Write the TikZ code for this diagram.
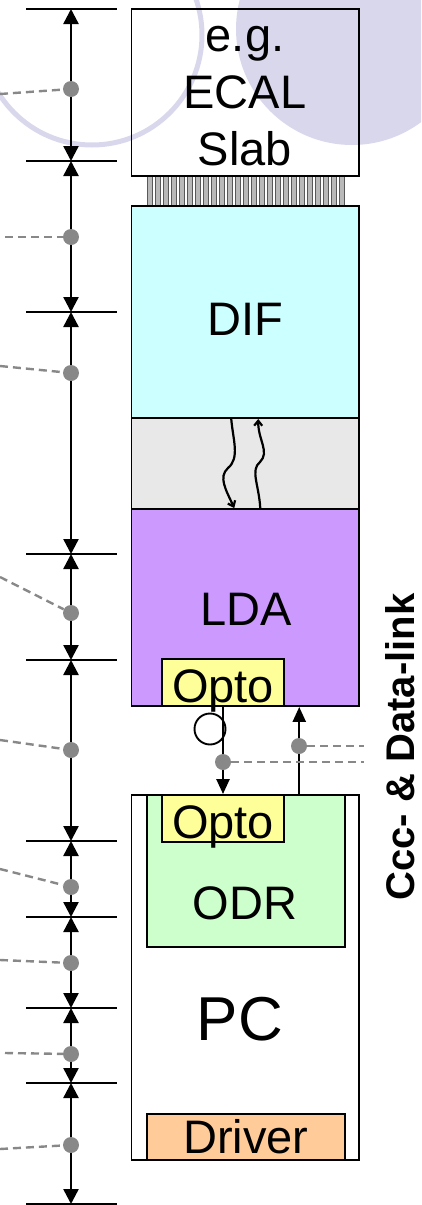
\documentclass[tikz,border=0pt]{standalone}
\usepackage{fontspec}
\setmainfont{Liberation Sans}
\usetikzlibrary{arrows.meta}

\definecolor{lavender}{HTML}{D9D7EC}
\definecolor{dotgray}{HTML}{888888}
\definecolor{difcol}{HTML}{CCFFFF}
\definecolor{gapcol}{HTML}{E8E8E8}
\definecolor{ldacol}{HTML}{CC99FF}
\definecolor{optocol}{HTML}{FFFF99}
\definecolor{odrcol}{HTML}{CCFFCC}
\definecolor{drvcol}{HTML}{FFCC99}

\tikzset{
  blk/.style={draw, line width=1.9pt, inner sep=0pt},
  lbl/.style={font=\fontsize{47}{57}\selectfont, inner sep=0pt},
  tick/.style={line width=2.8pt},
  dim/.style={{Triangle[width=15pt,length=15pt]}-{Triangle[width=15pt,length=15pt]}, line width=2.4pt},
  link/.style={-{Triangle[width=13pt,length=15pt]}, line width=2.4pt},
  wave/.style={-{Straight Barb[length=5pt,width=8pt]}, line width=2.2pt},
  dot/.style={circle, fill=dotgray, minimum size=16pt, inner sep=0pt},
  lead/.style={dotgray, dash pattern=on 8pt off 5pt, line width=2.4pt},
}

\begin{document}
\begin{tikzpicture}[x=1pt, y=-1pt]
\useasboundingbox (0,0) rectangle (421,1205);

% background
\begin{scope}
\clip (0,0) rectangle (421,1205);
\fill[lavender] (352,29) circle (116pt);
\draw[lavender, line width=5pt] (92,35) circle (110pt);
\end{scope}

% scale on the left
\foreach \n/\y in {0/9,1/161,2/312,3/554,4/660,5/841,6/917,7/1008,8/1083,9/1204}
  \coordinate (t\n) at (71,\y);
\foreach \n in {0,...,9}
  \draw[tick] ([xshift=-45pt]t\n) -- ([xshift=46pt]t\n);
\foreach \a/\b in {0/1,1/2,2/3,3/4,4/5,5/6,6/7,7/8,8/9}
  \draw[dim] (t\a) -- (t\b);

\foreach \n/\y/\lx/\ly in {1/89/0/94, 2/237/5/237, 3/373/0/366, 4/613/0/577, 5/750/0/740,
                           6/887/0/869, 7/963/0/960, 8/1054/5/1053, 9/1145/0/1149} {
  \coordinate (l\n) at (\lx,\ly);
  \node[dot] (d\n) at (71,\y) {};
  \draw[lead] (l\n) -- (d\n);
}

% connector between slab and DIF
\foreach \i in {0,...,24}
  \filldraw[fill=gray!55, draw=gray!70!black, line width=0.5pt] ({147+8*\i},176) rectangle ++(5,30);

% boxes
\node[blk, minimum width=227.5pt, minimum height=167pt] (slab) at (245.25,92.5) {};
\node[blk, fill=difcol, minimum width=227.5pt, minimum height=212pt] (dif) at (245.25,312) {};
\node[blk, fill=gapcol, minimum width=227.5pt, minimum height=91pt] (gap) at (245.25,463.5) {};
\node[blk, fill=ldacol, minimum width=227.5pt, minimum height=197pt] (lda) at (245.25,607.5) {};
\node[blk, fill=optocol, minimum width=122pt, minimum height=47pt] (opto1) at (223,682.5) {};
\node[blk, fill=white, minimum width=227.5pt, minimum height=365pt] (pc) at (245.25,977.5) {};
\node[blk, fill=odrcol, minimum width=198pt, minimum height=152pt] (odr) at (246,871) {};
\node[blk, fill=optocol, minimum width=122pt, minimum height=47pt] (opto2) at (223,818.5) {};
\node[blk, fill=drvcol, minimum width=198pt, minimum height=46pt] (driver) at (246,1137) {};

% labels
\node[lbl, align=center] (slabtxt) at (245,96.5) {e.g.\\ECAL\\Slab};
\node[lbl, anchor=base] (diftxt) at (245,335) {DIF};
\node[lbl, anchor=base] (ldatxt) at (246,625) {LDA};
\node[lbl, anchor=base] (opto1txt) at (223,702) {Opto};
\node[lbl, anchor=base] (opto2txt) at (223,838) {Opto};
\node[lbl, anchor=base] (odrtxt) at (245,919) {ODR};
\node[lbl, anchor=base, font=\fontsize{62}{62}\selectfont] (pctxt) at (240,1040) {PC};
\node[lbl, anchor=base] (drvtxt) at (246,1153) {Driver};
\node[rotate=90, inner sep=0pt, font=\bfseries\fontsize{40}{40}\selectfont] (cdl) at (400,747) {Ccc- \& Data-link};

% wireless between DIF and LDA
\draw[wave] ([xshift=-14pt]dif.south) .. controls (233,440) and (240,458) .. (228,468)
  .. controls (218,477) and (226,490) .. ([xshift=-11pt]lda.north);
\draw[wave] ([xshift=15pt]lda.north) .. controls (259,485) and (250,470) .. (260,462)
  .. controls (270,452) and (258,440) .. ([xshift=13pt]dif.south);

% links LDA <-> ODR
\node[circle, draw, fill=white, line width=1.9pt, minimum size=31pt, inner sep=0pt] (clk) at (210,729) {};
\draw[link] (opto1.south) -- (opto1.south |- pc.north);
\draw[link] ([xshift=54pt]pc.north) -- ([xshift=54pt]lda.south);
\node[dot] (ud) at (299,746) {};
\node[dot] (dd) at (223,762) {};
\coordinate (ur) at (364,746);
\coordinate (dr) at (364,762);
\draw[lead] (ud) -- (ur);
\draw[lead] (dd) -- (dr);

\end{tikzpicture}
\end{document}
